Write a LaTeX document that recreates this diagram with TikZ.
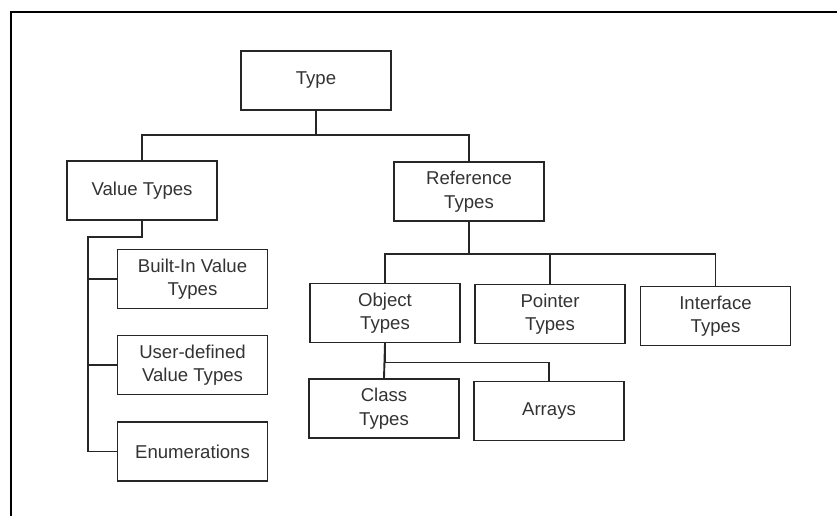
\documentclass[tikz,border=0pt]{standalone}
\usepackage{fontspec}
\setmainfont{Liberation Sans}
\begin{document}
\begin{tikzpicture}[x=1pt,y=-1pt,
  ink/.style={line width=1.9pt,draw=black!85},
  typebox/.style={ink,rectangle,minimum width=150pt,minimum height=59pt,
    inner sep=0pt,align=center,text=black!80,
    font=\fontsize{18.6pt}{23.5pt}\selectfont},
  link/.style={ink,line cap=rect}]
  \useasboundingbox (0,0) rectangle (837,515);
  % frame edges
  \draw[line width=2.4pt,black] (11,516) -- (11,12) -- (838,12);

  % hierarchy boxes
  \node[typebox] (type)      at (316,80.5)   {Type};
  \node[typebox] (value)     at (142,190.5)  {Value Types};
  \node[typebox] (ref)       at (469,191.5)  {Reference\\Types};
  \node[typebox] (builtin)   at (192.5,279)  {Built-In Value\\Types};
  \node[typebox] (user)      at (192.5,365)  {User-defined\\Value Types};
  \node[typebox] (enum)      at (192.5,451.5){Enumerations};
  \node[typebox] (object)    at (385,313)    {Object\\Types};
  \node[typebox] (pointer)   at (550,314)    {Pointer\\Types};
  \node[typebox] (interface) at (715.5,316)  {Interface\\Types};
  \node[typebox] (class)     at (384,408.5)  {Class\\Types};
  \node[typebox] (arrays)    at (549,411)    {Arrays};

  % Type -> Value / Reference
  \draw[link] (type.south) -- ++(0,24) -| (value.north);
  \draw[link] (type.south) -- ++(0,24) -| (ref.north);

  % Reference -> Object / Pointer / Interface
  \draw[link] (ref.south) -- ++(0,32) -| (object.north);
  \draw[link] (ref.south) -- ++(0,32) -| (pointer.north);
  \draw[link] (ref.south) -- ++(0,32) -| (interface.north);

  % Object -> Class / Arrays
  \draw[link] (object.south) -- (class.north);
  \draw[link] (object.south) -- ++(0,19) -| (arrays.north);

  % Value -> side rail -> value kinds
  \coordinate (rail) at (88,237);
  \draw[link] (value.south) -- (value.south |- rail) -- (rail)
    -- (rail |- enum.west) -- (enum.west);
  \draw[link] (rail |- builtin.west) -- (builtin.west);
  \draw[link] (rail |- user.west) -- (user.west);
\end{tikzpicture}
\end{document}
